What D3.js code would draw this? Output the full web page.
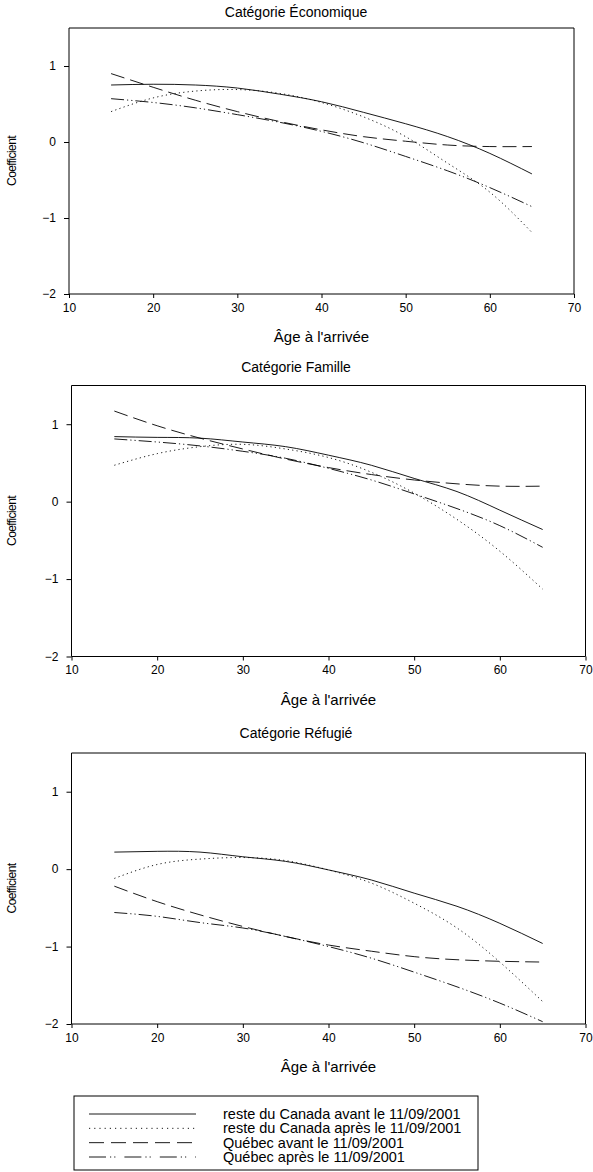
<!DOCTYPE html>
<html>
<head>
<meta charset="utf-8">
<script src="https://cdn.jsdelivr.net/npm/d3@7/dist/d3.min.js"></script>
<style>
  html, body { margin: 0; padding: 0; background: #fff; }
  svg { display: block; }
  text { font-family: "Liberation Sans", Arial, sans-serif; fill: #000; }
</style>
</head>
<body>
<svg id="chart" width="593" height="1172"></svg>
<script>
// ---------------- DATA ----------------
const ages = [15, 20, 25, 30, 35, 40, 45, 50, 55, 60, 65];
const categories = ["Catégorie Économique", "Catégorie Famille", "Catégorie Réfugié"];
const seriesNames = [
  "reste du Canada avant le 11/09/2001",
  "reste du Canada après le 11/09/2001",
  "Québec avant le 11/09/2001",
  "Québec après le 11/09/2001"
];
const xTicks = [10, 20, 30, 40, 50, 60, 70];
const yTicks = [-2, -1, 0, 1];
const xTitle = "Âge à l'arrivée";
const yTitle = "Coefficient";

// Catégorie Économique
const ecoRdcAvant = [0.75, 0.76, 0.75, 0.71, 0.63, 0.53, 0.39, 0.24, 0.07, -0.15, -0.42];
const ecoRdcApres = [0.40, 0.58, 0.67, 0.69, 0.64, 0.52, 0.33, 0.07, -0.28, -0.66, -1.19];
const ecoQcAvant  = [0.90, 0.72, 0.55, 0.40, 0.27, 0.16, 0.07, 0.01, -0.04, -0.06, -0.06];
const ecoQcApres  = [0.57, 0.52, 0.45, 0.36, 0.26, 0.14, -0.01, -0.19, -0.38, -0.60, -0.85];
// Catégorie Famille
const famRdcAvant = [0.84, 0.83, 0.82, 0.77, 0.71, 0.60, 0.47, 0.30, 0.13, -0.11, -0.36];
const famRdcApres = [0.47, 0.62, 0.71, 0.74, 0.68, 0.57, 0.38, 0.11, -0.23, -0.64, -1.13];
const famQcAvant  = [1.17, 0.98, 0.82, 0.68, 0.55, 0.44, 0.35, 0.28, 0.23, 0.20, 0.20];
const famQcApres  = [0.81, 0.77, 0.72, 0.65, 0.56, 0.43, 0.28, 0.10, -0.09, -0.31, -0.59];
// Catégorie Réfugié
const refRdcAvant = [0.22, 0.23, 0.22, 0.16, 0.10, -0.01, -0.14, -0.31, -0.48, -0.70, -0.96];
const refRdcApres = [-0.12, 0.06, 0.13, 0.15, 0.11, -0.01, -0.18, -0.44, -0.76, -1.20, -1.71];
const refQcAvant  = [-0.22, -0.42, -0.59, -0.74, -0.87, -0.98, -1.06, -1.13, -1.17, -1.19, -1.20];
const refQcApres  = [-0.56, -0.61, -0.69, -0.76, -0.87, -1.00, -1.15, -1.33, -1.52, -1.73, -1.97];

const panelSeries = [
  [ecoRdcAvant, ecoRdcApres, ecoQcAvant, ecoQcApres],
  [famRdcAvant, famRdcApres, famQcAvant, famQcApres],
  [refRdcAvant, refRdcApres, refQcAvant, refQcApres]
];

// ---------------- STYLE / LAYOUT ----------------
const dashes = ["none", "1.2,3.2", "14,6", "13,3,1.2,3,1.2,3"];
const legendDashes = ["none", "1.2,4", "15,7", "17,4,1.2,3,1.2,9"];
const panels = [
  { left: 69,   right: 574,   top: 28,    bottom: 294,   titleY: 12,  titleX: 296 },
  { left: 71.5, right: 585.5, top: 385.5, bottom: 656.5, titleY: 367, titleX: 296 },
  { left: 71.5, right: 585.5, top: 753,   bottom: 1024,  titleY: 733, titleX: 296 }
];
const FONT = '"Liberation Sans", Arial, sans-serif';

const svg = d3.select("#chart");

panels.forEach((p, i) => {
  const x = d3.scaleLinear().domain([10, 70]).range([p.left, p.right]);
  const y = d3.scaleLinear().domain([-2, 1.5]).range([p.bottom, p.top]);
  const g = svg.append("g");

  // title
  g.append("text")
    .attr("x", p.titleX).attr("y", p.titleY)
    .attr("dy", "0.35em")
    .attr("text-anchor", "middle")
    .style("font-size", "14px")
    .text(categories[i]);

  // frame (top & right)
  g.append("path")
    .attr("d", `M${p.left},${p.top}H${p.right}V${p.bottom}`)
    .attr("fill", "none").attr("stroke", "#000").attr("stroke-width", 1);

  // axes
  const xAxis = d3.axisBottom(x).tickValues(xTicks).tickSize(4).tickPadding(5).tickFormat(d3.format("d"));
  const yAxis = d3.axisLeft(y).tickValues(yTicks).tickSize(5).tickPadding(8).tickFormat(d3.format("d"));
  const gx = g.append("g").attr("transform", `translate(0,${p.bottom})`).call(xAxis);
  const gy = g.append("g").attr("transform", `translate(${p.left},0)`).call(yAxis);
  [gx, gy].forEach(a => {
    a.select(".domain").attr("stroke", "#000");
    a.selectAll(".tick line").attr("stroke", "#000");
    a.selectAll(".tick text").style("font-family", FONT).style("font-size", "12px").attr("fill", "#000");
  });
  gy.select(".domain").attr("d", `M0,${p.bottom}V${p.top}`);
  gx.select(".domain").attr("d", `M${p.left},0H${p.right}`);

  // axis titles
  g.append("text")
    .attr("x", (p.left + p.right) / 2).attr("y", p.bottom + 43)
    .attr("dy", "0.35em").attr("text-anchor", "middle")
    .style("font-size", "15px")
    .text(xTitle);
  g.append("text")
    .attr("transform", `translate(12,${(p.top + p.bottom) / 2}) rotate(-90)`)
    .attr("dy", "0.35em").attr("text-anchor", "middle")
    .style("font-size", "12px").style("letter-spacing", "-0.6px")
    .text(yTitle);

  // lines
  const line = d3.line().x((d, k) => x(ages[k])).y(d => y(d)).curve(d3.curveNatural);
  panelSeries[i].forEach((vals, s) => {
    g.append("path")
      .datum(vals)
      .attr("d", line)
      .attr("fill", "none")
      .attr("stroke", "#000")
      .attr("stroke-width", 0.9)
      .attr("stroke-dasharray", dashes[s]);
  });
});

// ---------------- LEGEND ----------------
const lg = { left: 74, right: 478, top: 1096, bottom: 1170 };
const lgRowY = d3.scalePoint().domain(seriesNames).range([1114, 1157]);
svg.append("rect")
  .attr("x", lg.left).attr("y", lg.top)
  .attr("width", lg.right - lg.left).attr("height", lg.bottom - lg.top)
  .attr("fill", "none").attr("stroke", "#000").attr("stroke-width", 1);
seriesNames.forEach((name, s) => {
  const yy = lgRowY(name);
  svg.append("line")
    .attr("x1", 89).attr("x2", 196).attr("y1", yy).attr("y2", yy)
    .attr("stroke", "#000").attr("stroke-width", 0.9)
    .attr("stroke-dasharray", legendDashes[s]);
  svg.append("text")
    .attr("x", 223).attr("y", yy).attr("dy", "0.35em")
    .style("font-size", "14.5px")
    .text(name);
});
</script>
</body>
</html>
